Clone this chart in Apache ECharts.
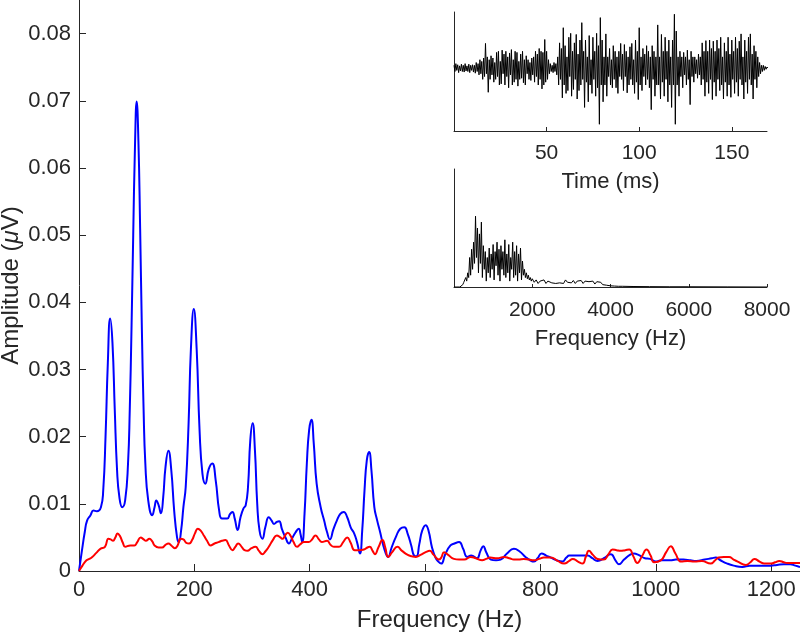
<!DOCTYPE html>
<html><head><meta charset="utf-8">
<script src="https://cdn.jsdelivr.net/npm/echarts@6/dist/echarts.min.js"></script>
<style>html,body{margin:0;padding:0;background:#fff}#c{width:800px;height:637px}</style>
</head><body><div id="c"></div>
<script>
// ---------- main chart data ----------
const mainXLabels = [0, 200, 400, 600, 800, 1000, 1200];
const mainYLabels = [0, 0.01, 0.02, 0.03, 0.04, 0.05, 0.06, 0.07, 0.08];

// blue spectrum: [frequency Hz, amplitude µV]
const bluePoints = [
[0,0],[5,0.003],[10,0.0058],[14,0.0075],[20,0.0083],[25,0.009],[31,0.0089],[38,0.0095],
[42,0.012],[46,0.02],[50,0.031],[54,0.0376],[58,0.034],[62,0.024],[66,0.015],[70,0.011],
[75,0.0095],[80,0.0105],[85,0.016],[88,0.024],[91,0.036],[94,0.05],[97,0.063],[100,0.0699],
[103,0.064],[106,0.051],[109,0.036],[112,0.024],[115,0.016],[120,0.0105],[127,0.0083],[131,0.0095],
[134,0.0105],[138,0.0098],[142,0.0086],[146,0.011],[150,0.0155],[155,0.0179],[160,0.015],
[165,0.009],[170,0.005],[173,0.0043],[177,0.006],[181,0.0095],[185,0.0125],[190,0.022],
[194,0.033],[199,0.039],[204,0.033],[209,0.021],[214,0.0145],[219,0.013],[225,0.0152],
[231,0.016],[237,0.0135],[243,0.009],[248,0.0078],[257,0.0078],[262,0.0085],[266,0.0088],
[270,0.0078],[275,0.0061],[280,0.008],[285,0.0093],[289,0.0098],[293,0.0125],[297,0.0195],
[301,0.022],[305,0.018],[309,0.01],[313,0.006],[318,0.0048],[323,0.0065],[329,0.008],
[334,0.0075],[338,0.007],[343,0.0073],[347,0.0074],[352,0.0062],[358,0.005],[364,0.0041],
[369,0.0048],[375,0.0057],[381,0.0063],[384,0.0055],[387,0.0043],[391,0.0085],[395,0.016],
[399,0.021],[403,0.0225],[407,0.019],[412,0.013],[419,0.0095],[425,0.0075],[430,0.0058],
[435,0.0047],[441,0.0062],[447,0.0075],[453,0.0085],[459,0.0088],[465,0.008],[471,0.0065],
[477,0.0056],[482,0.0043],[487,0.0026],[491,0.006],[495,0.012],[499,0.0165],[503,0.0177],
[507,0.015],[512,0.0095],[517,0.0075],[522,0.0058],[527,0.004],[532,0.0026],[536,0.0021],
[542,0.0035],[550,0.0052],[557,0.0063],[564,0.0065],[570,0.0055],[576,0.0038],[581,0.0023],
[585,0.0022],[590,0.004],[595,0.006],[601,0.0068],[606,0.006],[612,0.0035],[618,0.002],
[623,0.0014],[628,0.0011],[635,0.0025],[644,0.0038],[651,0.0041],[659,0.0043],[666,0.0033],
[673,0.0021],[680,0.0023],[690,0.0019],[696,0.003],[701,0.0037],[706,0.0028],[714,0.0017],
[723,0.0016],[731,0.0017],[742,0.0026],[754,0.0033],[764,0.0029],[774,0.0021],[782,0.0016],
[789,0.0014],[795,0.0019],[802,0.0026],[810,0.0023],[818,0.002],[828,0.0016],[838,0.0014],
[845,0.002],[850,0.0023],[866,0.0023],[882,0.0023],[890,0.0019],[899,0.0015],[910,0.0019],
[922,0.0025],[930,0.0016],[936,0.001],[945,0.0017],[955,0.0024],[962,0.0026],[970,0.0024],
[981,0.0019],[990,0.0018],[1000,0.0014],[1010,0.0016],[1025,0.0016],[1035,0.0017],
[1048,0.0017],[1060,0.0016],[1070,0.0015],[1085,0.0017],[1097,0.0019],[1104,0.002],
[1112,0.0016],[1124,0.0011],[1135,0.0008],[1150,0.0006],[1163,0.0008],[1176,0.0008],
[1188,0.0008],[1199,0.0008],[1210,0.0009],[1222,0.001],[1233,0.001],[1242,0.0008],[1250,0.0006]
];

// red spectrum: [frequency Hz, amplitude µV]
const redPoints = [
[0,0],[6,0.0008],[13,0.0016],[18,0.0018],[23,0.0021],[30,0.0027],[37,0.0033],[45,0.0036],
[51,0.0048],[55,0.0047],[59,0.0045],[63,0.005],[67,0.0056],[71,0.0052],[76,0.0042],[80,0.0036],
[89,0.0038],[96,0.0038],[101,0.0043],[107,0.005],[112,0.0047],[116,0.0045],[122,0.0048],
[127,0.0044],[131,0.0038],[138,0.0035],[144,0.0035],[150,0.0039],[155,0.0041],[160,0.0038],
[166,0.0034],[171,0.0038],[176,0.0048],[181,0.0047],[186,0.0042],[191,0.0041],[196,0.0046],
[201,0.0056],[206,0.0063],[211,0.006],[217,0.0052],[222,0.0045],[228,0.0038],[235,0.0041],
[242,0.0043],[248,0.0045],[254,0.0046],[260,0.0038],[266,0.0031],[271,0.0036],[276,0.0041],
[282,0.0036],[287,0.0031],[292,0.003],[299,0.0034],[306,0.0036],[312,0.003],[318,0.0025],
[323,0.0029],[329,0.0036],[336,0.0046],[343,0.0053],[349,0.005],[353,0.0048],[358,0.0054],
[362,0.0057],[367,0.0052],[372,0.0043],[378,0.0036],[384,0.004],[390,0.0043],[398,0.0043],
[404,0.0047],[410,0.0053],[416,0.0047],[421,0.0043],[430,0.0045],[436,0.0039],[442,0.0036],
[451,0.0036],[458,0.0043],[465,0.005],[471,0.0042],[478,0.0031],[486,0.0031],[494,0.0032],
[500,0.0035],[504,0.0036],[509,0.003],[513,0.0025],[519,0.0035],[526,0.0046],[531,0.0035],
[536,0.0021],[543,0.0028],[552,0.0036],[560,0.003],[570,0.0024],[577,0.0022],[584,0.0021],
[592,0.0024],[601,0.0028],[608,0.003],[615,0.0024],[624,0.0017],[628,0.002],[633,0.0028],
[640,0.0024],[650,0.0018],[659,0.0017],[668,0.0017],[679,0.0021],[688,0.0019],[699,0.0016],
[706,0.0018],[713,0.002],[725,0.0019],[737,0.0021],[746,0.0019],[754,0.0017],[762,0.0017],
[771,0.0018],[780,0.0017],[789,0.0016],[798,0.0018],[806,0.002],[818,0.002],[830,0.0015],
[841,0.0011],[850,0.0015],[856,0.0018],[865,0.0014],[873,0.0011],[879,0.0022],[884,0.003],
[891,0.0024],[899,0.0018],[910,0.0017],[918,0.0025],[925,0.0032],[932,0.0031],[939,0.003],
[947,0.0031],[954,0.0032],[961,0.0022],[968,0.0012],[976,0.0022],[984,0.0032],[991,0.0023],
[997,0.0013],[1009,0.0016],[1018,0.0028],[1026,0.0037],[1034,0.0026],[1044,0.0014],
[1055,0.0015],[1067,0.0014],[1080,0.0015],[1095,0.0011],[1103,0.0016],[1109,0.002],
[1118,0.0021],[1127,0.0021],[1135,0.0017],[1142,0.0014],[1156,0.0009],[1164,0.0013],
[1171,0.0018],[1180,0.0014],[1188,0.0011],[1200,0.0011],[1207,0.0013],[1214,0.0015],
[1222,0.0013],[1228,0.0012],[1240,0.0012],[1250,0.0012]
];

// ---------- inset 1: waveform (0.5 ms samples from 0 ms) ----------
const waveStepMs = 0.5;
const waveAmp = [
0.05,-0.06,0.08,-0.04,0.06,-0.08,0.04,-0.05,0.07,-0.06,0.05,-0.07,0.08,-0.05,0.04,-0.06,0.07,-0.08,0.05,-0.04,
0.06,-0.07,0.05,-0.09,0.1,-0.06,0.08,-0.12,0.15,-0.1,0.12,-0.2,0.18,-0.15,0.44,-0.1,0.2,-0.43,0.15,-0.2,
0.22,-0.12,0.18,-0.25,0.1,-0.2,0.28,-0.15,0.3,-0.3,0.12,-0.28,0.32,-0.1,0.25,-0.3,0.3,-0.15,0.2,-0.35,
0.27,-0.12,0.33,-0.3,0.15,-0.25,0.3,-0.2,0.28,-0.32,0.12,-0.2,0.25,-0.18,0.3,-0.26,0.15,-0.3,0.22,-0.1,
0.15,-0.2,0.1,-0.22,0.18,-0.12,0.2,-0.25,0.3,-0.15,0.25,-0.3,0.35,-0.2,0.3,-0.37,0.28,-0.3,0.51,-0.25,
0.3,-0.2,0.15,-0.1,0.08,-0.06,0.05,-0.08,0.1,-0.06,0.08,-0.12,0.2,-0.3,0.45,-0.2,0.35,-0.53,0.72,-0.3,
0.4,-0.45,0.2,-0.4,0.55,-0.15,0.62,-0.5,0.3,-0.38,0.45,-0.2,0.6,-0.55,0.25,-0.4,0.5,-0.3,0.81,-0.2,
0.3,-0.7,0.5,-0.25,0.2,-0.6,0.58,-0.3,0.15,-0.45,0.55,-0.2,0.3,-0.5,0.62,-0.35,0.4,-1.0,0.9,-0.3,
0.5,-0.6,0.2,-0.3,0.61,-0.5,0.2,-0.15,0.35,-0.3,0.15,-0.35,0.4,-0.2,0.3,-0.35,0.2,-0.45,0.3,-0.15,
0.44,-0.2,0.25,-0.4,0.42,-0.15,0.3,-0.44,0.2,-0.3,0.38,-0.2,0.44,-0.3,0.15,-0.45,0.5,-0.25,0.3,-0.56,
0.72,-0.3,0.2,-0.4,0.35,-0.15,0.25,-0.3,0.4,-0.2,0.3,-0.35,0.2,-0.74,0.4,-0.2,0.3,-0.5,0.2,-0.3,
0.77,-0.3,0.2,-0.55,0.6,-0.25,0.3,-0.5,0.55,-0.2,0.3,-0.6,0.5,-0.3,0.2,-0.7,0.5,-0.3,0.96,-1.0,
0.66,-0.3,0.2,-0.5,0.3,-0.15,0.2,-0.35,0.28,-0.12,0.2,-0.3,0.32,-0.2,0.15,-0.65,0.3,-0.15,0.2,-0.25,
0.2,-0.1,0.15,-0.18,0.25,-0.12,0.2,-0.3,0.45,-0.2,0.3,-0.5,0.49,-0.25,0.3,-0.45,0.5,-0.2,0.35,-0.56,
0.48,-0.25,0.3,-0.5,0.5,-0.2,0.35,-0.4,0.55,-0.3,0.2,-0.55,0.45,-0.25,0.3,-0.5,0.55,-0.3,0.25,-0.52,
0.5,-0.2,0.3,-0.45,0.55,-0.25,0.35,-0.5,0.48,-0.2,0.61,-0.3,0.2,-0.55,0.5,-0.25,0.3,-0.45,0.55,-0.2,
0.61,-0.3,0.25,-0.55,0.4,-0.2,0.3,-0.35,0.2,-0.15,0.1,-0.1,0.05,-0.06,0.05,-0.04,0.03,-0.02,0.02,0
];
const timeLabels = [50, 100, 150];

// ---------- inset 2: full spectrum ----------
const specLowStepHz = 25;   // from 0 Hz
const specLowAmp = [
0,0,0,0,0,0,0,0.005,
0.01,0.02,0.04,0.03,0.08,0.05,0.12,0.08,
0.25,0.1,0.32,0.15,0.38,0.2,0.6,0.25,
0.5,0.12,0.45,0.2,0.55,0.08,0.35,0.15,
0.3,0.05,0.25,0.12,0.33,0.08,0.28,0.15,
0.36,0.06,0.3,0.18,0.38,0.1,0.32,0.05,
0.35,0.15,0.3,0.1,0.4,0.08,0.28,0.12,
0.36,0.05,0.25,0.15,0.38,0.08,0.3,0.1,
0.35,0.05,0.28,0.12,0.33,0.06,0.22,0.1,
0.15,0.08,0.12,0.07,0.1,0.06,0.08,0.05,0.07
];
const specMidStartHz = 2050, specMidStepHz = 50;
const specMidAmp = [
0.04,0.06,0.03,0.05,0.04,0.06,0.03,0.05,0.04,0.035,
0.05,0.03,0.045,0.035,0.05,0.03,0.06,0.04,0.05,0.035,
0.055,0.03,0.05,0.04,0.055,0.03,0.05,0.035,0.045,0.03,
0.05,0.025,0.045,0.03,0.04,0.02,0.03,0.015,0.02,0.01,
0.012,0.008,0.01,0.006
];
const specTailFreq = [4300, 4600, 5000, 5500, 6000, 7000, 8000];
const specTailAmp  = [0.006, 0.004, 0.003, 0.002, 0.002, 0.001, 0];
const specLabels = [2000, 4000, 6000, 8000];

// ---------- build ----------
const FONT = "'Liberation Sans', Arial, Helvetica, sans-serif";
const AX = '#262626';
const waveData = waveAmp.map((v, i) => [i * waveStepMs, v]);
const specData = specLowAmp.map((v, i) => [i * specLowStepHz, v])
  .concat(specMidAmp.map((v, i) => [specMidStartHz + i * specMidStepHz, v]))
  .concat(specTailFreq.map((f, i) => [f, specTailAmp[i]]));

function xAx(grid, min, max, interval, labels, fs, name, nameFs, nameGap, margin, tickLen) {
  return {
    type: 'value', gridIndex: grid, min: min, max: max, interval: interval,
    splitLine: { show: false },
    axisLine: { show: true, onZero: false, lineStyle: { color: AX, width: 1 } },
    axisTick: { show: true, inside: true, length: tickLen, customValues: labels.filter(v => v !== 0),
      lineStyle: { color: AX, width: 1 } },
    axisLabel: { show: true, customValues: labels, margin: margin, color: AX, fontSize: fs, fontFamily: FONT,
      formatter: v => (labels.indexOf(v) >= 0 ? String(v) : '') },
    name: name, nameLocation: 'middle', nameGap: nameGap, nameMoveOverlap: false,
    nameTextStyle: { color: AX, fontSize: nameFs, fontFamily: FONT }
  };
}

const chart = echarts.init(document.getElementById('c'), null, { renderer: 'canvas' });
chart.setOption({
  animation: false,
  backgroundColor: '#ffffff',
  grid: [
    { left: 79, top: 0, right: 0, bottom: 66, containLabel: false, outerBoundsMode: 'none' },
    { left: 454, top: 12, width: 313, height: 119, containLabel: false, outerBoundsMode: 'none' },
    { left: 454, top: 169, width: 313, height: 118, containLabel: false, outerBoundsMode: 'none' }
  ],
  xAxis: [
    xAx(0, 0, 1250, 200, mainXLabels, 22, 'Frequency (Hz)', 24, 37, 8, 7),
    xAx(1, 0, 169, 50, timeLabels, 21, 'Time (ms)', 22, 40, 12, 4),
    xAx(2, 0, 8000, 2000, specLabels, 21, 'Frequency (Hz)', 22, 41, 13, 3)
  ],
  yAxis: [
    {
      type: 'value', gridIndex: 0, min: 0, max: 0.085, interval: 0.01,
      splitLine: { show: false },
      axisLine: { show: true, onZero: false, lineStyle: { color: AX, width: 1 } },
      axisTick: { show: true, inside: true, length: 7, customValues: mainYLabels.filter(v => v !== 0),
        lineStyle: { color: AX, width: 1 } },
      axisLabel: { show: true, customValues: mainYLabels, margin: 8, color: AX, fontSize: 22, fontFamily: FONT,
        formatter: v => (v === 0 ? '0' : v.toFixed(2)) },
      name: 'Amplitude ({i|μ}V)', nameLocation: 'middle', nameGap: 56, nameMoveOverlap: false,
      nameTextStyle: { color: AX, fontSize: 24, fontFamily: FONT,
        rich: { i: { fontStyle: 'italic', fontSize: 24, fontFamily: FONT, color: AX } } }
    },
    {
      type: 'value', gridIndex: 1, min: -1.12, max: 1,
      splitLine: { show: false }, axisTick: { show: false }, axisLabel: { show: false },
      axisLine: { show: true, onZero: false, lineStyle: { color: AX, width: 1 } }
    },
    {
      type: 'value', gridIndex: 2, min: 0, max: 1,
      splitLine: { show: false }, axisTick: { show: false }, axisLabel: { show: false },
      axisLine: { show: true, onZero: false, lineStyle: { color: AX, width: 1 } }
    }
  ],
  series: [
    { type: 'line', xAxisIndex: 0, yAxisIndex: 0, data: bluePoints, showSymbol: false, symbol: 'none',
      smooth: 0.5, lineStyle: { color: '#0000ff', width: 2 }, z: 3 },
    { type: 'line', xAxisIndex: 0, yAxisIndex: 0, data: redPoints, showSymbol: false, symbol: 'none',
      smooth: 0.5, lineStyle: { color: '#ff0000', width: 2 }, z: 4 },
    { type: 'line', xAxisIndex: 1, yAxisIndex: 1, data: waveData, showSymbol: false, symbol: 'none',
      lineStyle: { color: '#000000', width: 1 } },
    { type: 'line', xAxisIndex: 2, yAxisIndex: 2, data: specData, showSymbol: false, symbol: 'none',
      lineStyle: { color: '#000000', width: 1 } }
  ]
});
</script>
</body></html>
